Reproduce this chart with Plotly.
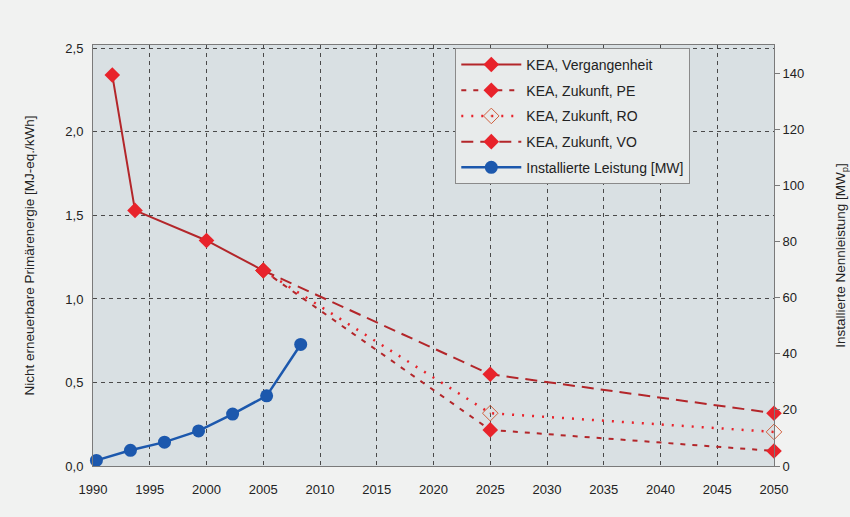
import plotly.graph_objects as go

# --- data ---
past_years = [1991.7, 1993.7, 2000, 2005]
past_kea = [2.34, 1.53, 1.35, 1.17]

future_years = [2005, 2025, 2050]
kea_pe = [1.17, 0.216, 0.09]
kea_ro = [1.17, 0.316, 0.204]
kea_vo = [1.17, 0.549, 0.316]

inst_years = [1990.3, 1993.3, 1996.3, 1999.3, 2002.3, 2005.3, 2008.3]
inst_mw = [2.0, 5.6, 8.5, 12.5, 18.5, 25.0, 43.3]

x_ticks = [1990, 1995, 2000, 2005, 2010, 2015, 2020, 2025, 2030, 2035, 2040, 2045, 2050]

RED_LINE = "#b3262a"
RED_MARK = "#e8232b"
BLUE = "#1c58ad"
FONT = "Liberation Sans, Arial, sans-serif"

fig = go.Figure()

fig.add_trace(go.Scatter(
    x=future_years, y=kea_pe, name="KEA, Zukunft, PE", mode="lines+markers",
    line=dict(color=RED_LINE, width=2, dash="5px,7px"),
    marker=dict(symbol="diamond", size=12, color=RED_MARK),
    legendrank=2, legendgroup="pe", cliponaxis=False))
fig.add_trace(go.Scatter(
    x=future_years, y=kea_ro, name="KEA, Zukunft, RO", mode="lines+markers",
    line=dict(color=RED_MARK, width=2.5, dash="2px,8px"),
    marker=dict(symbol="diamond-open-dot", size=12, color="#d0603e", line=dict(width=1)),
    legendrank=3, legendgroup="ro", cliponaxis=False))
fig.add_trace(go.Scatter(
    x=future_years, y=kea_vo, name="KEA, Zukunft, VO", mode="lines+markers",
    line=dict(color=RED_LINE, width=2, dash="12px,7px"),
    marker=dict(symbol="diamond", size=12, color=RED_MARK),
    legendrank=4, legendgroup="vo", cliponaxis=False))
fig.add_trace(go.Scatter(
    x=past_years, y=past_kea, name="KEA, Vergangenheit", mode="lines+markers",
    line=dict(color=RED_LINE, width=2),
    marker=dict(symbol="diamond", size=12, color=RED_MARK),
    legendrank=1, legendgroup="past", cliponaxis=False))
fig.add_trace(go.Scatter(
    x=inst_years, y=inst_mw, name="Installierte Leistung [MW]", mode="lines+markers",
    line=dict(color=BLUE, width=2.5),
    marker=dict(symbol="circle", size=13, color=BLUE),
    yaxis="y2", legendrank=5, legendgroup="inst", cliponaxis=False))

grid = dict(showgrid=True, gridcolor="#4a4a4a", gridwidth=1, griddash="4px,4px")

fig.update_layout(
    width=850, height=517,
    margin=dict(l=93, r=76, t=45, b=51),
    paper_bgcolor="#f1f2f1",
    plot_bgcolor="#d9e0e3",
    separators=",.",
    font=dict(family=FONT, size=13, color="#222222"),
    showlegend=True,
    legend=dict(
        x=0.532, y=0.993, xanchor="left", yanchor="top",
        bgcolor="#e8ebeb", bordercolor="#8a8a8a", borderwidth=1,
        font=dict(family=FONT, size=14, color="#222222"),
        traceorder="grouped", tracegroupgap=4.5, itemwidth=60,
    ),
    xaxis=dict(
        range=[1990, 2050], tickvals=x_ticks, ticks="outside", ticklen=11,
        tickcolor="rgba(0,0,0,0)", showline=True,
        linecolor="#7a7a7a", linewidth=1, mirror=True, zeroline=False,
        tickfont=dict(size=13), **grid),
    yaxis=dict(
        range=[0, 2.52], tickvals=[0, 0.5, 1.0, 1.5, 2.0, 2.5], tickformat=".1f",
        ticks="outside", ticklen=6, tickcolor="rgba(0,0,0,0)",
        showline=True, linecolor="#7a7a7a", linewidth=1, zeroline=False,
        automargin=False,
        title=dict(text="Nicht erneuerbare Primärenergie [MJ-eq./kWh]", font=dict(size=13.5), standoff=27),
        tickfont=dict(size=13), **grid),
    yaxis2=dict(
        range=[0, 150], overlaying="y", side="right", tickvals=[0, 20, 40, 60, 80, 100, 120, 140],
        ticks="outside", ticklen=5, tickcolor="#7a7a7a", showline=True, linecolor="#7a7a7a",
        showgrid=False, zeroline=False, automargin=False,
        title=dict(text="Installierte Nennleistung [MW<sub>p</sub>]", font=dict(size=13.5), standoff=32),
        tickfont=dict(size=13)),
)

fig.write_html("out.html", config={"displayModeBar": False},
               post_script="document.body.style.margin='0';")
